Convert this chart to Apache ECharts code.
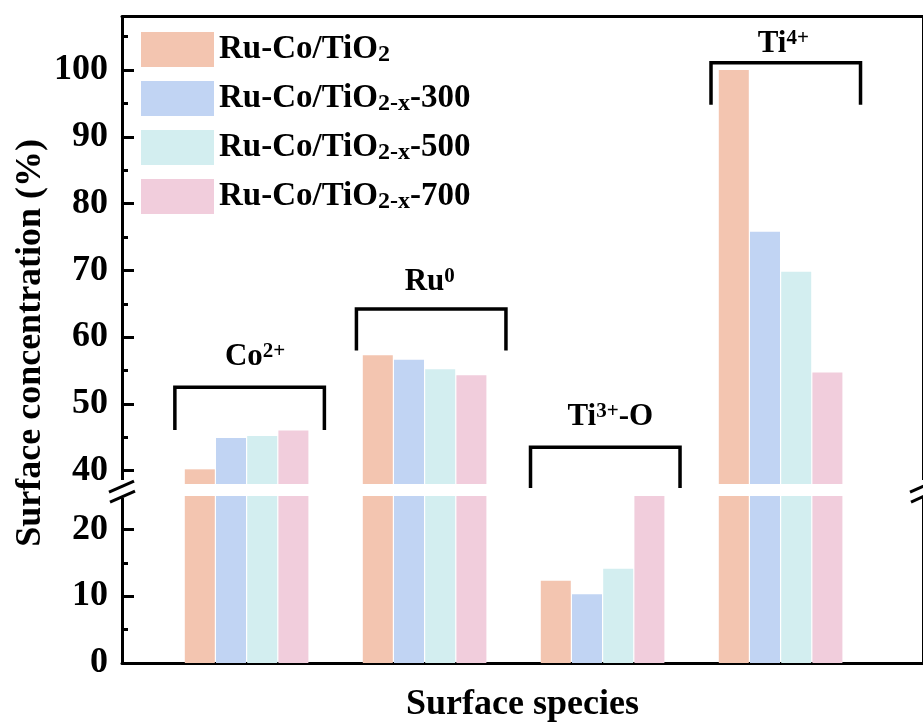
<!DOCTYPE html>
<html><head><meta charset="utf-8">
<script src="https://cdn.jsdelivr.net/npm/echarts@6/dist/echarts.min.js"></script>
<style>html,body{margin:0;padding:0;background:#fff}#c{width:923px;height:725px}</style>
</head><body><div id="c"></div>
<script>
// ---------- data ----------
const categories = ['Co2+', 'Ru0', 'Ti3+-O', 'Ti4+'];
const categoryPos = [1, 2, 3, 4];
const seriesNames = ['Ru-Co/TiO2', 'Ru-Co/TiO2-x-300', 'Ru-Co/TiO2-x-500', 'Ru-Co/TiO2-x-700'];
const valuesTiO2 = [40.2, 57.3, 12.3, 100.0];
const values300  = [44.9, 56.6, 10.3, 75.8];
const values500  = [45.2, 55.2, 14.1, 69.8];
const values700  = [46.0, 54.3, 29.0, 54.7];
const upperTicks = [40, 50, 60, 70, 80, 90, 100];
const upperMinorTicks = [45, 55, 65, 75, 85, 95, 105];
const lowerTicks = [0, 10, 20];
const lowerMinorTicks = [5, 15];
const upperRange = [38, 108];
const lowerRange = [0, 25];
const xRange = [0.3, 4.8];
// group annotations (brackets + labels), in data units
const bracketCenter = [1.017, 2.037, 3.015, 4.029];
const bracketTop    = [52.5, 64.2, 43.5, 101.1];
const bracketLeg    = [46.1, 58.0, 37.4, 94.8];
const labelX        = [1.048, 2.029, 3.043, 4.015];
const labelY        = [57.0, 68.3, 48.0, 103.9];

const colors = ['#F3C5B0', '#C1D4F3', '#D3EEF0', '#F1CDDC'];
const FONT = "'Times New Roman', 'Liberation Serif', serif";
const allValues = [valuesTiO2, values300, values500, values700];

const chart = echarts.init(document.getElementById('c'));

const gridLeft = 122, gridRight = 924;
const pxPerY = 6.676;
const upperTop = 16.7;
const upperH = (upperRange[1] - upperRange[0]) * pxPerY;
const lowerBottom = 663;
const lowerH = (lowerRange[1] - lowerRange[0]) * 6.68;

function legendFmt(name) {
  const m = name.match(/^Ru-Co\/TiO2(-x)?(-\d+)?$/);
  if (m[1]) return '{m|Ru-Co/TiO}{s|2-x}{m|' + m[2] + '}';
  return '{m|Ru-Co/TiO}{s|2}';
}
function labelRich(cat) {
  const m = cat.match(/^([A-Za-z]+)(\d\+?)(.*)$/);
  let s = '{m|' + m[1] + '}{p|' + m[2] + '}';
  if (m[3]) s += '{m|' + m[3] + '}';
  return s;
}

const axisLineStyle = { color: '#000', width: 3 };
function yAxisSet(gridIdx, range, ticks, minor) {
  return [
    { gridIndex: gridIdx, type: 'value', position: 'left', min: range[0], max: range[1],
      axisLine: { show: true, lineStyle: axisLineStyle },
      axisTick: { show: true, inside: true, length: 12, lineStyle: { color: '#000', width: 3 }, customValues: ticks },
      axisLabel: { show: true, margin: 14, color: '#000', fontSize: 36, fontWeight: 'bold', fontFamily: FONT, customValues: ticks },
      splitLine: { show: false } },
    { gridIndex: gridIdx, type: 'value', position: 'left', min: range[0], max: range[1],
      axisLine: { show: false },
      axisTick: { show: true, inside: true, length: 6, lineStyle: { color: '#000', width: 3 }, customValues: minor },
      axisLabel: { show: false }, splitLine: { show: false } },
    { gridIndex: gridIdx, type: 'value', position: 'right', min: range[0], max: range[1],
      axisLine: { show: true, lineStyle: axisLineStyle },
      axisTick: { show: false }, axisLabel: { show: false }, splitLine: { show: false } }
  ];
}

const series = [];
[0, 1].forEach(function (g) {
  allValues.forEach(function (vals, i) {
    series.push({
      name: seriesNames[i], type: 'bar', xAxisIndex: g, yAxisIndex: g * 3,
      barWidth: 30, barGap: '4%',
      itemStyle: { color: colors[i] },
      data: categoryPos.map(function (x, k) { return [x, vals[k]]; }),
      clip: true, silent: true
    });
  });
});

series.push({
  type: 'custom', xAxisIndex: 0, yAxisIndex: 0, clip: false, silent: true, z: 10,
  data: categories.map(function (c, k) { return [bracketCenter[k], bracketTop[k], bracketLeg[k], labelX[k], labelY[k], k]; }),
  renderItem: function (params, api) {
    const xc = api.value(0), top = api.value(1), leg = api.value(2);
    const half = 0.42;
    const pts = [api.coord([xc - half, leg]), api.coord([xc - half, top]), api.coord([xc + half, top]), api.coord([xc + half, leg])];
    const lp = api.coord([api.value(3), api.value(4)]);
    return {
      type: 'group',
      children: [
        { type: 'polyline', shape: { points: pts }, style: { stroke: '#000', lineWidth: 3.5, fill: null } },
        { type: 'text', x: lp[0], y: lp[1], style: {
            text: labelRich(categories[api.value(5)]), align: 'center', verticalAlign: 'middle',
            rich: {
              m: { fontSize: 31, fontWeight: 'bold', fontFamily: FONT, fill: '#000', lineHeight: 32 },
              p: { fontSize: 21, fontWeight: 'bold', fontFamily: FONT, fill: '#000', lineHeight: 18, verticalAlign: 'top' }
            } } }
      ]
    };
  }
});

chart.setOption({
  animation: false,
  backgroundColor: '#fff',
  grid: [
    { left: gridLeft, top: upperTop, width: gridRight - gridLeft, height: upperH },
    { left: gridLeft, top: lowerBottom - lowerH, width: gridRight - gridLeft, height: lowerH }
  ],
  xAxis: [
    { gridIndex: 0, type: 'value', position: 'top', min: xRange[0], max: xRange[1],
      axisLine: { show: true, onZero: false, lineStyle: axisLineStyle }, axisTick: { show: false }, axisLabel: { show: false }, splitLine: { show: false } },
    { gridIndex: 1, type: 'value', position: 'bottom', min: xRange[0], max: xRange[1],
      axisLine: { show: true, onZero: false, lineStyle: axisLineStyle }, axisTick: { show: false }, axisLabel: { show: false }, splitLine: { show: false },
      name: 'Surface species', nameLocation: 'middle', nameGap: 24,
      nameTextStyle: { color: '#000', fontSize: 36, fontWeight: 'bold', fontFamily: FONT } }
  ],
  yAxis: yAxisSet(0, upperRange, upperTicks, upperMinorTicks).concat(yAxisSet(1, lowerRange, lowerTicks, lowerMinorTicks)),
  legend: {
    data: seriesNames, orient: 'vertical', left: 136, top: 27,
    itemWidth: 73, itemHeight: 35, itemGap: 14, icon: 'rect', selectedMode: false,
    itemStyle: { borderWidth: 0 },
    formatter: legendFmt,
    textStyle: {
      rich: {
        m: { fontSize: 33, fontWeight: 'bold', fontFamily: FONT, color: '#000', lineHeight: 35 },
        s: { fontSize: 24, fontWeight: 'bold', fontFamily: FONT, color: '#000', lineHeight: 12, verticalAlign: 'bottom' }
      }
    }
  },
  series: series
});

// break marks & y title
function breakMarks(xVal) {
  const a = chart.convertToPixel({ xAxisIndex: 0, yAxisIndex: 0 }, [xVal, upperRange[0]]);
  const b = chart.convertToPixel({ xAxisIndex: 1, yAxisIndex: 3 }, [xVal, lowerRange[1]]);
  const x = a[0], ym = (a[1] + b[1]) / 2;
  return [
    { type: 'rect', shape: { x: x - 4, y: a[1] - 4, width: 8, height: b[1] - a[1] + 6 }, style: { fill: '#fff' }, z: 100 },
    { type: 'line', shape: { x1: x - 13, y1: ym + 2, x2: x + 12, y2: ym - 9 }, style: { stroke: '#000', lineWidth: 3 }, z: 101 },
    { type: 'line', shape: { x1: x - 12, y1: ym + 12, x2: x + 13, y2: ym + 1 }, style: { stroke: '#000', lineWidth: 3 }, z: 101 }
  ];
}
const midY = (chart.convertToPixel({ yAxisIndex: 0 }, upperRange[1]) + chart.convertToPixel({ yAxisIndex: 3 }, lowerRange[0])) / 2;
chart.setOption({
  graphic: breakMarks(xRange[0]).concat(breakMarks(xRange[1])).concat([
    { type: 'text', x: 31, y: midY + 3, rotation: Math.PI / 2,
      style: { text: 'Surface concentration (%)', align: 'center', verticalAlign: 'middle',
        font: 'bold 36px ' + FONT, fill: '#000' } }
  ])
});
</script></body></html>
